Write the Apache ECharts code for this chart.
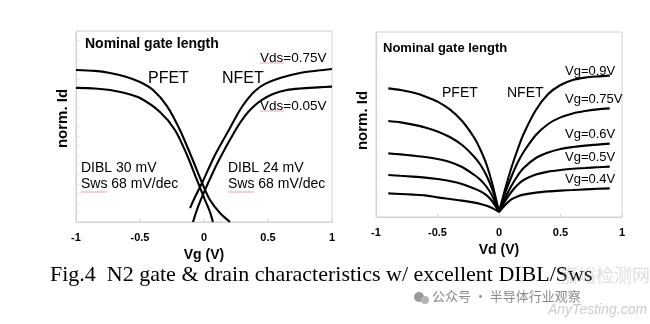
<!DOCTYPE html>
<html>
<head>
<meta charset="utf-8">
<script src="https://cdn.jsdelivr.net/npm/echarts@6/dist/echarts.min.js"></script>
<style>html,body{margin:0;padding:0;background:#fff;}#c{width:650px;height:324px;}</style>
</head>
<body>
<div id="c"></div>
<script>
// ---- Left chart: transfer curves (Vg, norm. Id) ----
const xTickLabels = ['-1', '-0.5', '0', '0.5', '1'];
const pfetVdsHiX = [-1.0, -0.852, -0.734, -0.617, -0.5, -0.398, -0.289, -0.188, -0.094, -0.008, 0.047, 0.125, 0.203];
const pfetVdsHiY = [79.6, 79.1, 78.0, 76.2, 73.3, 69.1, 60.7, 48.2, 33.5, 19.4, 11.5, 4.7, 0];
const pfetVdsLoX = [-1.0, -0.852, -0.734, -0.617, -0.5, -0.344, -0.227, -0.133, -0.055, 0.008, 0.047, 0.070];
const pfetVdsLoY = [70.2, 69.9, 69.1, 67.5, 64.9, 57.6, 48.2, 35.1, 22.0, 11.5, 5.2, 0];
const nfetVdsHiX = [-0.109, -0.0625, -0.008, 0.086, 0.203, 0.281, 0.336, 0.398, 0.477, 0.594, 0.75, 0.891, 1.0];
const nfetVdsHiY = [7.3, 14.1, 21.5, 35.1, 49.2, 58.6, 63.9, 68.6, 72.3, 75.4, 78.0, 79.3, 80.1];
const nfetVdsLoX = [-0.086, -0.047, 0.008, 0.109, 0.242, 0.320, 0.383, 0.453, 0.539, 0.648, 0.75, 0.891, 1.0];
const nfetVdsLoY = [0, 7.9, 16.8, 31.4, 47.6, 55.5, 60.2, 63.9, 67.0, 69.1, 69.9, 70.5, 70.9];

// ---- Right chart: output curves (Vd, norm. Id) ----
const vdN = [0, 0.05, 0.1, 0.15, 0.2, 0.3, 0.4, 0.5, 0.6, 0.7, 0.8, 0.9];
const nVg090 = [0.25, 1.4, 2.45, 3.35, 4.15, 5.35, 6.15, 6.6, 6.85, 6.97, 7.03, 7.07];
const nVg075 = [0.25, 1.2, 2.0, 2.7, 3.25, 4.1, 4.65, 4.98, 5.18, 5.3, 5.38, 5.43];
const nVg060 = [0.25, 0.95, 1.55, 2.05, 2.45, 2.95, 3.22, 3.4, 3.5, 3.57, 3.62, 3.67];
const nVg050 = [0.25, 0.8, 1.25, 1.6, 1.85, 2.12, 2.27, 2.35, 2.41, 2.45, 2.49, 2.52];
const nVg040 = [0.25, 0.6, 0.88, 1.03, 1.12, 1.22, 1.28, 1.32, 1.35, 1.38, 1.41, 1.43];
const vdP = [-0.9, -0.8, -0.7, -0.6, -0.5, -0.4, -0.3, -0.2, -0.15, -0.1, -0.05, 0];
const pVg090 = [6.43, 6.35, 6.22, 6.03, 5.77, 5.38, 4.8, 3.95, 3.35, 2.6, 1.55, 0.25];
const pVg075 = [4.8, 4.73, 4.62, 4.48, 4.28, 4.0, 3.6, 3.0, 2.6, 2.05, 1.3, 0.25];
const pVg060 = [3.18, 3.13, 3.07, 3.0, 2.9, 2.75, 2.5, 2.1, 1.85, 1.5, 1.0, 0.25];
const pVg050 = [2.1, 2.06, 2.02, 1.97, 1.9, 1.8, 1.65, 1.42, 1.28, 1.08, 0.75, 0.25];
const pVg040 = [1.18, 1.15, 1.12, 1.08, 0.98, 0.9, 0.82, 0.72, 0.65, 0.56, 0.43, 0.25];
const vgLabels = ['Vg=0.9V', 'Vg=0.75V', 'Vg=0.6V', 'Vg=0.5V', 'Vg=0.4V'];

const FONT = '"Liberation Sans", Arial, sans-serif';
const zip = (xs, ys) => xs.map((x, i) => [x, ys[i]]);
const lineSeries = (data, xi) => ({
  type: 'line', xAxisIndex: xi, yAxisIndex: xi, data: data, showSymbol: false,
  smooth: 0.3, lineStyle: { color: '#000', width: 2.1 }, silent: true
});
const frame = '#d2d2d2';
const xAxisCfg = (gi, nameGap, name) => ({
  type: 'value', gridIndex: gi, min: -1, max: 1, interval: 0.5,
  name: name, nameLocation: 'middle', nameGap: nameGap,
  nameTextStyle: { fontFamily: FONT, fontWeight: 'bold', fontSize: 14, color: '#000' },
  axisLine: { onZero: false, lineStyle: { color: frame } },
  axisTick: { inside: true, length: 3, lineStyle: { color: frame } },
  axisLabel: { fontFamily: FONT, fontWeight: 'bold', fontSize: 11, color: '#000', margin: 10,
    formatter: v => xTickLabels[Math.round((v + 1) / 0.5)] },
  splitLine: { show: false }
});
const yAxisCfg = (gi, max, interval, padUp) => ({
  type: 'value', gridIndex: gi, min: 0, max: max, interval: interval,
  name: 'norm. Id', nameLocation: 'middle', nameGap: 6, nameRotate: 90,
  nameTextStyle: { fontFamily: FONT, fontWeight: 'bold', fontSize: 15, color: '#000', padding: [0, 0, 0, padUp] },
  axisLine: { show: true, onZero: false, lineStyle: { color: frame } },
  axisTick: { show: true, inside: true, length: 3, lineStyle: { color: '#e0e0e0' } },
  axisLabel: { show: false },
  splitLine: { show: false }
});

const txt = (x, y, text, size, weight, extra) => Object.assign({
  type: 'text', left: x, top: y, silent: true,
  style: { text: text, fontFamily: FONT, fontSize: size, fontWeight: weight || 'normal', fill: '#000' }
}, extra || {});
const uline = (x1, x2, y) => ({ type: 'line', silent: true,
  shape: { x1: x1, y1: y, x2: x2, y2: y }, style: { stroke: '#e6a3b4', lineWidth: 1 } });

const rightLabelY = [65, 93, 128, 151, 173];

const chart = echarts.init(document.getElementById('c'), null, { renderer: 'canvas' });
chart.setOption({
  animation: false,
  backgroundColor: '#fff',
  grid: [
    { left: 76, top: 31, width: 256, height: 191, show: true, borderColor: frame, borderWidth: 1 },
    { left: 376, top: 32, width: 246, height: 185, show: true, borderColor: frame, borderWidth: 1 }
  ],
  xAxis: [xAxisCfg(0, 12, 'Vg (V)'), xAxisCfg(1, 17, 'Vd (V)')],
  yAxis: [yAxisCfg(0, 100, 5, 16), yAxisCfg(1, 9.25, 1, 8)],
  series: [
    lineSeries(zip(pfetVdsHiX, pfetVdsHiY), 0), lineSeries(zip(pfetVdsLoX, pfetVdsLoY), 0),
    lineSeries(zip(nfetVdsHiX, nfetVdsHiY), 0), lineSeries(zip(nfetVdsLoX, nfetVdsLoY), 0),
    lineSeries(zip(vdN, nVg090), 1), lineSeries(zip(vdN, nVg075), 1), lineSeries(zip(vdN, nVg060), 1),
    lineSeries(zip(vdN, nVg050), 1), lineSeries(zip(vdN, nVg040), 1),
    lineSeries(zip(vdP, pVg090), 1), lineSeries(zip(vdP, pVg075), 1), lineSeries(zip(vdP, pVg060), 1),
    lineSeries(zip(vdP, pVg050), 1), lineSeries(zip(vdP, pVg040), 1)
  ],
  graphic: [
    // left chart annotations
    txt(85, 37, 'Nominal gate length', 14, 'bold'),
    txt(148, 71, 'PFET', 16),
    txt(222, 71, 'NFET', 16),
    txt(260, 51, 'Vds=0.75V', 13.5),
    txt(260, 99, 'Vds=0.05V', 13.5),
    uline(260, 284, 63), uline(260, 284, 111),
    txt(81, 161, 'DIBL 30 mV', 14),
    txt(81, 177, 'Sws 68 mV/dec', 14),
    txt(228, 161, 'DIBL 24 mV', 14),
    txt(228, 177, 'Sws 68 mV/dec', 14),
    uline(81, 107, 192), uline(228, 254, 192),
    // right chart annotations
    txt(383, 42, 'Nominal gate length', 13, 'bold'),
    txt(442, 86, 'PFET', 14),
    txt(507, 86, 'NFET', 14),
    ...vgLabels.map((s, i) => txt(565, rightLabelY[i], s, 13)),
    // caption
    { type: 'text', left: 50, top: 264, silent: true,
      style: { text: 'Fig.4  N2 gate & drain characteristics w/ excellent DIBL/Sws',
        fontFamily: '"Liberation Serif", "Times New Roman", serif', fontSize: 22, fill: '#000' } },
    // watermark
    { type: 'text', left: 560, top: 266, silent: true,
      style: { text: '嘉峪检测网', fontFamily: '"Noto Sans CJK SC"', fontSize: 18, fill: 'rgba(170,170,170,0.4)' } },
    { type: 'circle', silent: true, shape: { cx: 419, cy: 297, r: 5 }, style: { fill: '#9a9a9a' } },
    { type: 'circle', silent: true, shape: { cx: 425, cy: 300, r: 4 }, style: { fill: '#b5b5b5' } },
    { type: 'text', left: 432, top: 290, silent: true,
      style: { text: '公众号 · 半导体行业观察', fontFamily: '"Noto Sans CJK SC"', fontSize: 13, fill: '#8a8a8a' } },
    { type: 'text', left: 548, top: 303, silent: true,
      style: { text: 'AnyTesting.com', fontFamily: FONT, fontStyle: 'italic', fontSize: 14, fill: 'rgba(190,190,190,0.8)' } }
  ]
});
</script>
</body>
</html>
